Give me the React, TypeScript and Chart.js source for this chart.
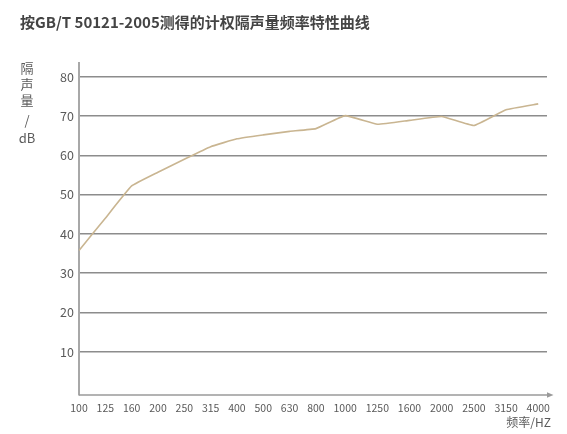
import { useEffect, useRef } from 'react';
import { Chart, registerables } from 'chart.js';

Chart.register(...registerables);

const TITLE = '按GB/T 50121-2005测得的计权隔声量频率特性曲线';
const Y_TITLE = ['隔', '声', '量', '/', 'dB'];
const X_TITLE = '频率/HZ';
const FREQ = ['100', '125', '160', '200', '250', '315', '400', '500', '630', '800', '1000', '1250', '1600', '2000', '2500', '3150', '4000'];
const TL = [35.8, 44.0, 52.2, 55.7, 59.0, 62.2, 64.2, 65.2, 66.1, 66.8, 70.1, 67.9, 68.9, 69.9, 67.6, 71.6, 73.1];
const Y_TICKS = [10, 20, 30, 40, 50, 60, 70, 80];

const FONT = '"Noto Sans CJK SC", "Noto Sans", sans-serif';

// label slots spaced by the lengths of their texts (as in the reference axis)
const GAP = 1.5;
const xPos: number[] = [];
FREQ.forEach((f, i) => {
  if (i === 0) xPos.push(0);
  else xPos.push(xPos[i - 1] + (FREQ[i - 1].length + f.length) / 2 + GAP);
});

const decorPlugin = {
  id: 'decor',
  afterDraw(chart: any) {
    const { ctx, chartArea } = chart;
    ctx.save();
    // y axis title, stacked
    ctx.fillStyle = '#5a5a5a';
    ctx.font = `13px ${FONT}`;
    ctx.textAlign = 'center';
    ctx.textBaseline = 'middle';
    const ys = [68.5, 84.5, 100.5, 120.5, 138.5];
    Y_TITLE.forEach((t, i) => ctx.fillText(t, 27, ys[i]));
    // x axis with arrow
    const y = chartArea.bottom;
    ctx.strokeStyle = '#9a9a9a';
    ctx.lineWidth = 1.5;
    ctx.beginPath();
    ctx.moveTo(chartArea.left, y);
    ctx.lineTo(chartArea.right + 4, y);
    ctx.stroke();
    ctx.fillStyle = '#9a9a9a';
    ctx.beginPath();
    ctx.moveTo(chartArea.right + 6.5, y);
    ctx.lineTo(chartArea.right, y - 2.8);
    ctx.lineTo(chartArea.right, y + 2.8);
    ctx.closePath();
    ctx.fill();
    // x axis title
    ctx.fillStyle = '#5a5a5a';
    ctx.font = `12px ${FONT}`;
    ctx.textAlign = 'right';
    ctx.fillText(X_TITLE, 551, 422);
    ctx.restore();
  },
};

export default function App() {
  const ref = useRef<HTMLCanvasElement | null>(null);
  useEffect(() => {
    document.body.style.margin = '0';
    if (!ref.current) return;
    const chart = new Chart(ref.current, {
      type: 'line',
      data: {
        datasets: [
          {
            data: TL.map((v, i) => ({ x: xPos[i], y: v })),
            borderColor: '#c9b591',
            borderWidth: 1.6,
            pointRadius: 0,
            tension: 0.1,
            fill: false,
          },
        ],
      },
      options: {
        animation: false,
        responsive: false,
        events: [],
        layout: { padding: { left: 20, right: 20, top: 0, bottom: 0 } },
        plugins: {
          legend: { display: false },
          tooltip: { enabled: false },
          title: {
            display: true,
            text: TITLE,
            align: 'start',
            color: '#444',
            font: { family: FONT, size: 15, weight: 'bold' },
            padding: { top: 13, bottom: 32 },
          },
        },
        scales: {
          x: {
            type: 'linear',
            min: 0,
            max: xPos[xPos.length - 1] + GAP,
            afterBuildTicks: (axis: any) => {
              axis.ticks = xPos.map((v) => ({ value: v }));
            },
            afterFit: (s: any) => {
              s.height = 39;
            },
            grid: { display: false, drawTicks: false },
            border: { display: false },
            ticks: {
              autoSkip: false,
              maxRotation: 0,
              padding: 7,
              color: '#5a5a5a',
              font: { family: FONT, size: 10.5 },
              callback: (_v: any, i: number) => FREQ[i],
            },
          },
          y: {
            type: 'linear',
            min: -1,
            max: 83.5,
            afterBuildTicks: (axis: any) => {
              axis.ticks = Y_TICKS.map((v) => ({ value: v }));
            },
            afterFit: (s: any) => {
              s.width = 59;
            },
            grid: { color: '#8c8c8c', lineWidth: 1.5, drawTicks: false },
            border: { display: true, color: '#a8a8a8', width: 2 },
            ticks: {
              padding: 5,
              color: '#5a5a5a',
              font: { family: FONT, size: 12.5 },
            },
          },
        },
      },
      plugins: [decorPlugin],
    });
    return () => chart.destroy();
  }, []);
  return (
    <div style={{ width: 567, height: 434 }}>
      <canvas ref={ref} width={567} height={434} />
    </div>
  );
}
